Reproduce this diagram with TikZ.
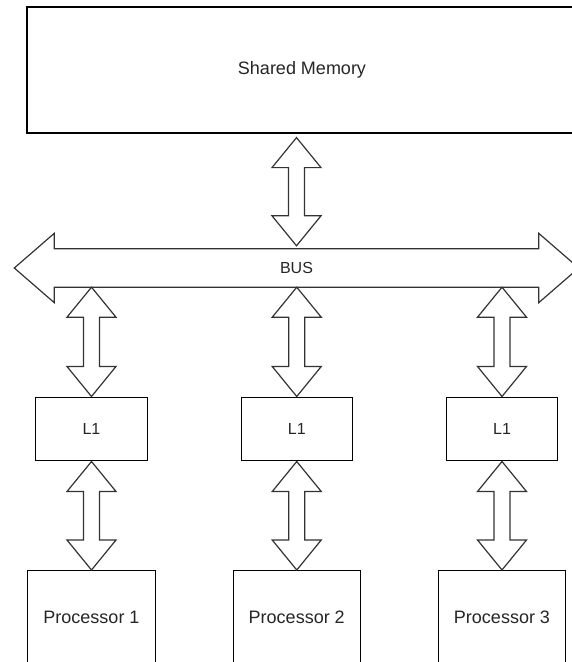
\documentclass[tikz,border=0pt]{standalone}
\usepackage{fontspec}
\setmainfont{Liberation Sans}
\usetikzlibrary{calc}
\tikzset{
  box/.style={draw=black, line width=1bp, inner sep=0pt, text=black!85},
  blk/.style={draw=black!80, line width=1.2bp, line join=miter},
  bigtxt/.style={font=\fontsize{18bp}{21bp}\selectfont},
  smalltxt/.style={font=\fontsize{16bp}{19bp}\selectfont},
}
\newcommand\vdblarrow[2]{%
  \draw[blk] (#1) -- ($(#1)+(24.5,30)$) -- ($(#1)+(8,30)$) -- ($(#2)+(8,-30)$)
    -- ($(#2)+(24.5,-30)$) -- (#2) -- ($(#2)+(-24.5,-30)$) -- ($(#2)+(-8,-30)$)
    -- ($(#1)+(-8,30)$) -- ($(#1)+(-24.5,30)$) -- cycle;}
\begin{document}
\begin{tikzpicture}[x=1bp,y=-1bp]
\useasboundingbox (0,0) rectangle (572,662);
\clip (0,0) rectangle (572,662);
\fill[white] (0,0) rectangle (572,662);

% Shared memory
\node[box, bigtxt, line width=1.2bp, minimum width=550bp, minimum height=126bp] (sm) at (302,70) {Shared Memory};

% Bus
\node[smalltxt, text=black!85, minimum width=484bp, minimum height=38bp, inner sep=0pt] (bus) at (296.5,268) {BUS};
\draw[blk] (bus.north west) -- (bus.north east) -- ($(bus.north east)+(0,-15.5)$)
  -- ($(bus.east)+(40,0)$) -- ($(bus.south east)+(0,15.5)$) -- (bus.south east)
  -- (bus.south west) -- ($(bus.south west)+(0,15.5)$) -- ($(bus.west)+(-40,0)$)
  -- ($(bus.north west)+(0,-15.5)$) -- cycle;

% L1 caches
\node[box, smalltxt, minimum width=111bp, minimum height=63bp] (l1a) at (91.5,428.5) {L1};
\node[box, smalltxt, minimum width=111bp, minimum height=63bp] (l1b) at (296.75,428.5) {L1};
\node[box, smalltxt, minimum width=111bp, minimum height=63bp] (l1c) at (502,428.5) {L1};

% Processors
\node[box, bigtxt, minimum width=127bp, minimum height=94bp, anchor=north] (p1) at (91.5,570) {Processor 1};
\node[box, bigtxt, minimum width=127bp, minimum height=94bp, anchor=north] (p2) at (296.75,570) {Processor 2};
\node[box, bigtxt, minimum width=127bp, minimum height=94bp, anchor=north] (p3) at (502,570) {Processor 3};

% Connectors
\coordinate (smb) at ($(sm.south -| bus.north)+(0,4)$);
\coordinate (bust) at ($(bus.north)+(0,-3)$);
\vdblarrow{smb}{bust}

\coordinate (b1) at (bus.south -| l1a.north);
\coordinate (b2) at (bus.south -| l1b.north);
\coordinate (b3) at (bus.south -| l1c.north);
\vdblarrow{b1}{l1a.north}
\vdblarrow{b2}{l1b.north}
\vdblarrow{b3}{l1c.north}

\coordinate (c1) at ($(l1a.south)+(0,1)$);
\coordinate (c2) at ($(l1b.south)+(0,1)$);
\coordinate (c3) at ($(l1c.south)+(0,1)$);
\vdblarrow{c1}{p1.north}
\vdblarrow{c2}{p2.north}
\vdblarrow{c3}{p3.north}
\end{tikzpicture}
\end{document}
